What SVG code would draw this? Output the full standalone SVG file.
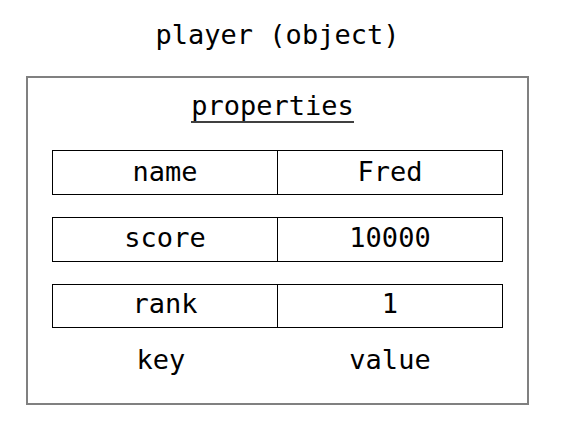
<svg xmlns="http://www.w3.org/2000/svg" width="563" height="430" viewBox="0 0 563 430">
<style>
text{font-family:"DejaVu Sans Mono","Liberation Mono",monospace;font-size:27px;fill:#000;text-anchor:middle}
.cell{fill:#fff;stroke:#000;stroke-width:1}
</style>
<rect width="563" height="430" fill="#fff"/>
<g id="title"><text x="277.5" y="44">player (object)</text></g>
<g id="object">
<rect x="27" y="77" width="501" height="327" fill="#fff" stroke="#808080" stroke-width="2"/>
<text x="272.5" y="115">properties</text>
<line x1="191" y1="122" x2="354" y2="122" stroke="#000" stroke-width="1.5"/>
</g>
<g id="row-name">
<rect class="cell" x="52.5" y="150.5" width="225" height="44"/>
<rect class="cell" x="277.5" y="150.5" width="225" height="44"/>
<text x="165" y="181">name</text>
<text x="390" y="181">Fred</text>
</g>
<g id="row-score">
<rect class="cell" x="52.5" y="217.5" width="225" height="44"/>
<rect class="cell" x="277.5" y="217.5" width="225" height="44"/>
<text x="165" y="247">score</text>
<text x="390" y="247">10000</text>
</g>
<g id="row-rank">
<rect class="cell" x="52.5" y="284.5" width="225" height="43"/>
<rect class="cell" x="277.5" y="284.5" width="225" height="43"/>
<text x="165" y="313">rank</text>
<text x="390" y="313">1</text>
</g>
<g id="labels">
<text x="161" y="369">key</text>
<text x="390" y="369">value</text>
</g>
<g id="connectors"/>
</svg>
